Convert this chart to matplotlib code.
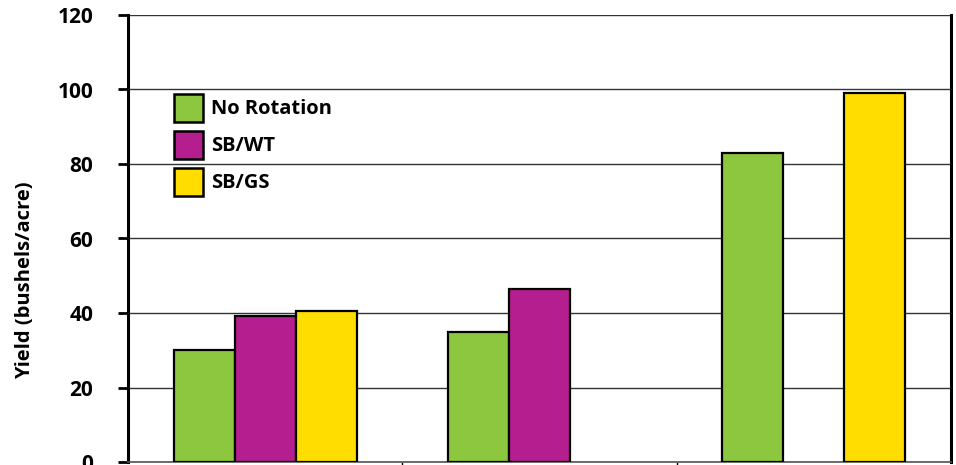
import numpy as np
import matplotlib.pyplot as plt
from matplotlib.patches import Patch

# Data (missing bars = None)
groups = ['Group 1', 'Group 2', 'Group 3']
no_rotation = [30, 35, 83]
sb_wt = [39.2, 46.4, None]
sb_gs = [40.5, None, 99]

series = [
    ('No Rotation', no_rotation, '#8DC63F'),
    ('SB/WT', sb_wt, '#B41E8E'),
    ('SB/GS', sb_gs, '#FFDD00'),
]

plt.rcParams['font.family'] = ['Open Sans', 'DejaVu Sans']
plt.rcParams['font.weight'] = 'bold'

fig = plt.figure(figsize=(9.56, 4.65), dpi=100)
ax = fig.add_axes([128 / 956, 1 - 462 / 465, (951 - 128) / 956, (462 - 15) / 465])

x = np.arange(len(groups))
w = 0.222
for i, (name, vals, col) in enumerate(series):
    for xi, v in zip(x, vals):
        if v is None:
            continue
        ax.bar(xi + (i - 1) * w, v, width=w, color=col, edgecolor='black',
               linewidth=1.6, zorder=3)

ax.set_xlim(-0.5, 2.5)
ax.set_ylim(0, 120)
ax.set_yticks(range(0, 121, 20))
ax.set_xticks([0.5, 1.5])
ax.set_xticklabels([])
ax.tick_params(axis='y', labelsize=15, width=2, length=7, direction='out', pad=18)
ax.tick_params(axis='x', width=1, length=6, direction='out')
for lab in ax.get_yticklabels():
    lab.set_fontweight('bold')

ax.grid(axis='y', color='#333333', linewidth=1.0, zorder=0)
ax.spines['top'].set_visible(False)
ax.spines['left'].set_linewidth(2.2)
ax.spines['right'].set_linewidth(2.2)
ax.spines['bottom'].set_linewidth(1.2)
ax.spines['bottom'].set_color('#555555')

ax.set_ylabel('Yield (bushels/acre)', fontsize=14.5, fontweight='bold')
ax.yaxis.set_label_coords(-0.113, 0.407)

handles = [Patch(facecolor=c, edgecolor='black', linewidth=1.8, label=n) for n, _, c in series]
leg = ax.legend(handles=handles, loc='upper left',
                bbox_to_anchor=((174 - 128) / 823, (462 - 94) / 447),
                borderpad=0, borderaxespad=0,
                frameon=False, fontsize=14.5, handlelength=1.45, handleheight=1.75,
                handletextpad=0.4, labelspacing=0.45)
for t in leg.get_texts():
    t.set_fontweight('bold')

fig.savefig('out.png', dpi=100)
